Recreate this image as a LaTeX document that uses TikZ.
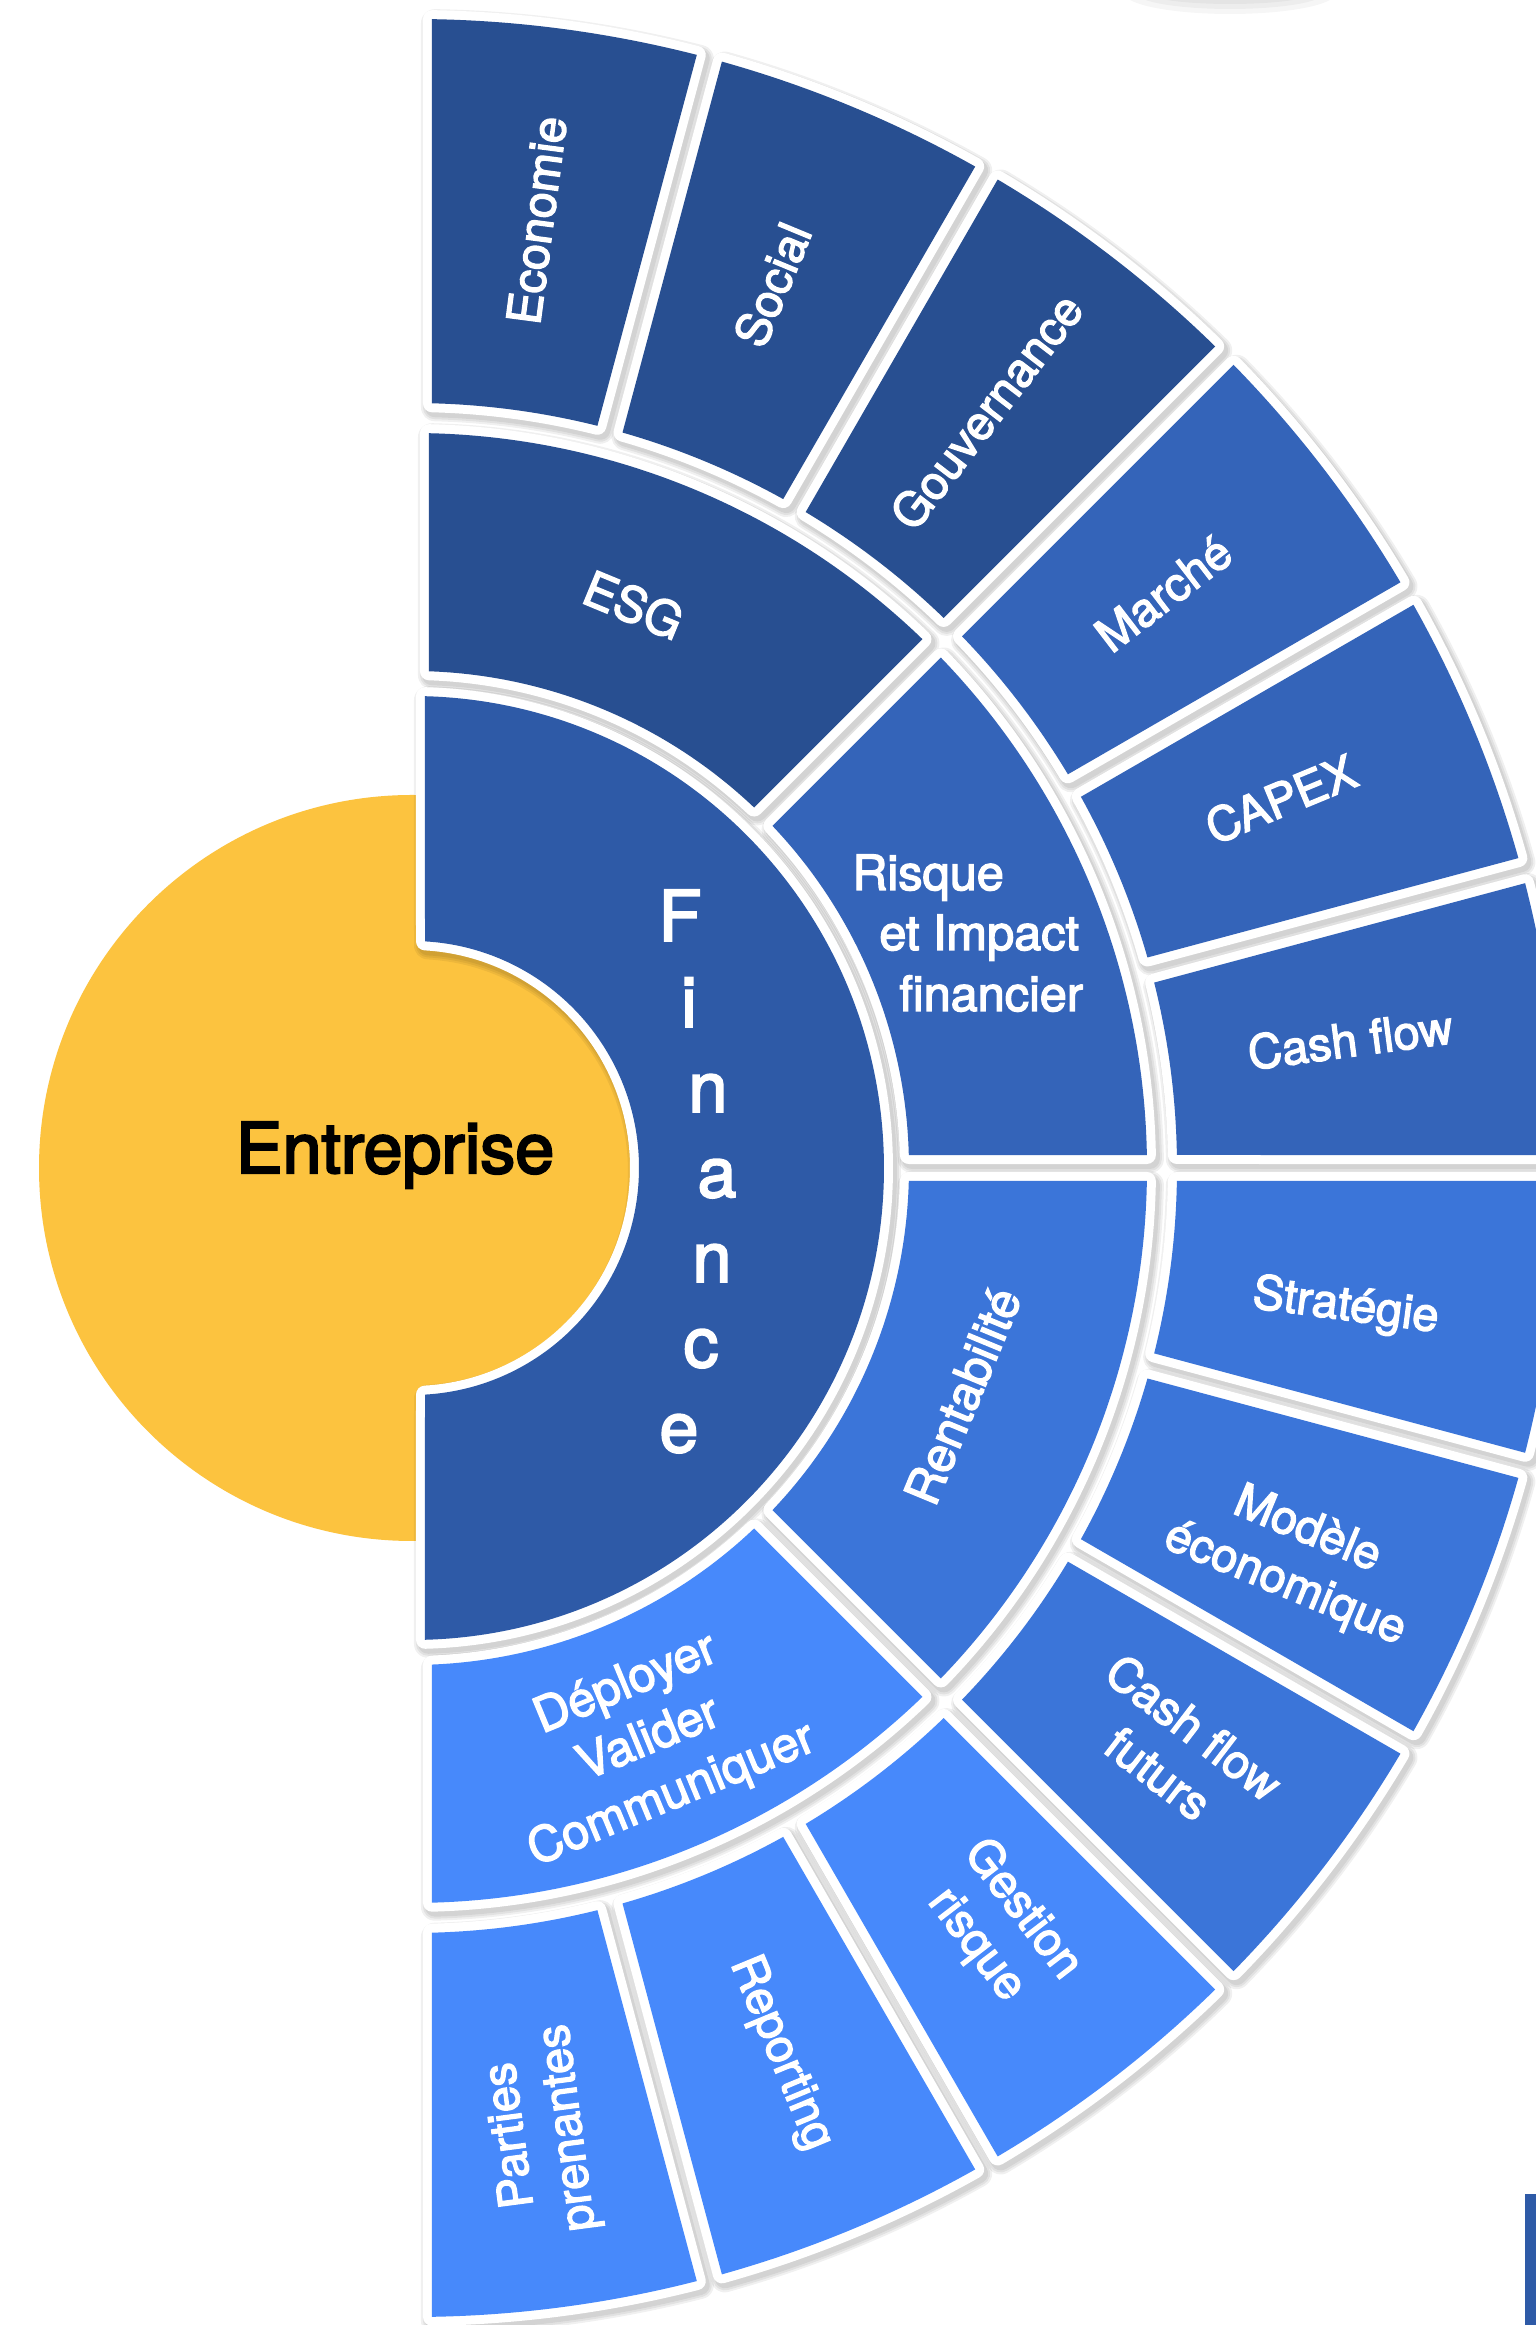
\documentclass[tikz,border=0pt]{standalone}
\usepackage{fontspec}
\setmainfont{TeX Gyre Heros}[FakeBold=2.8]
\newfontfamily\heavyfont{TeX Gyre Heros}[FakeBold=3.2]
\usetikzlibrary{calc}

\definecolor{cYellow}{HTML}{FCC33F}
\definecolor{cFin}{HTML}{2E5AA7}
\definecolor{cEsg}{HTML}{284F91}
\definecolor{cRis}{HTML}{3464B9}
\definecolor{cRen}{HTML}{3B75D9}
\definecolor{cDep}{HTML}{4789FB}

% corner angles of an annular sector whose straight sides are pulled in
% by #5 (first side) and #6 (second side)
\newcommand\segcalc[6]{%
  \pgfmathsetmacro\sgOa{#3+asin(#5/#2)}%
  \pgfmathsetmacro\sgOb{#4-asin(#6/#2)}%
  \pgfmathsetmacro\sgIa{#3+asin(#5/#1)}%
  \pgfmathsetmacro\sgIb{#4-asin(#6/#1)}%
}
% soft drop shadow of a sector
\newcommand\segshadow[6]{%
  \segcalc{#1}{#2}{#3}{#4}{#5}{#6}%
  \begin{scope}[transform canvas={shift={(1.5pt,-2pt)}}]
  \foreach \w in {10,12,14}{%
    \path[fill=black, draw=black, opacity=0.06, line width=\w pt, line join=round]
      ([shift={(\sgOa:#2)}]C) arc[start angle=\sgOa, end angle=\sgOb, radius=#2]
      -- ([shift={(\sgIb:#1)}]C) arc[start angle=\sgIb, end angle=\sgIa, radius=#1]
      -- cycle;}
  \end{scope}%
}
% white rimmed coloured sector
\newcommand\segfill[7]{%
  \segcalc{#1}{#2}{#3}{#4}{#5}{#6}%
  \path[draw=white, line width=9pt, line join=round]
    ([shift={(\sgOa:#2)}]C) arc[start angle=\sgOa, end angle=\sgOb, radius=#2]
    -- ([shift={(\sgIb:#1)}]C) arc[start angle=\sgIb, end angle=\sgIa, radius=#1]
    -- cycle;
  \path[fill=#7]
    ([shift={(\sgOa:#2)}]C) arc[start angle=\sgOa, end angle=\sgOb, radius=#2]
    -- ([shift={(\sgIb:#1)}]C) arc[start angle=\sgIb, end angle=\sgIa, radius=#1]
    -- cycle;
}

\begin{document}
\begin{tikzpicture}[x=0.5pt, y=0.5pt,
  lab/.style={text=white, font=\fontsize{23.5}{29}\selectfont, align=center, inner sep=0pt},
  mid/.style={lab, font=\fontsize{24.3}{30}\selectfont},
  big/.style={font=\fontsize{35}{42}\selectfont, inner sep=0pt},
  letter/.style={big, text=white, anchor=base},
]
\useasboundingbox (0,0) rectangle (1536,2325);
\clip (0,0) rectangle (1536,2325);
\fill[white] (0,0) rectangle (1536,2325);

\coordinate (C) at (412,1157);

% faint shadow of an object above the frame
\foreach \k in {1,2,3}{
  \fill[black, opacity=0.035] (1230,2332) ellipse[x radius={70+12*\k}, y radius={6+5*\k}];}

% core disc
\fill[cYellow] (C) circle[radius=373];

% shadows of all sectors
\segshadow{227}{472}{-90}{90}{13}{13}
\foreach \aa/\ab/\dA/\dB in {45/90/13/17, 0/45/13/13, -45/0/13/13, -90/-45/20/13}{
  \segshadow{497}{735}{\aa}{\ab}{\dA}{\dB}}
\foreach \aa/\ab/\dA/\dB in {75/90/13/20, 60/75/13/13, 45/60/13/13, 30/45/13/13,
    15/30/13/13, 0/15/13/13, -15/0/13/13, -30/-15/13/13, -45/-30/13/13,
    -60/-45/13/13, -75/-60/13/13, -90/-75/20/13}{
  \segshadow{765}{1149}{\aa}{\ab}{\dA}{\dB}}

% inner ring
\segfill{227}{472}{-90}{90}{13}{13}{cFin}
% middle ring
\segfill{497}{735}{45}{90}{13}{17}{cEsg}
\segfill{497}{735}{0}{45}{13}{13}{cRis}
\segfill{497}{735}{-45}{0}{13}{13}{cRen}
\segfill{497}{735}{-90}{-45}{20}{13}{cDep}
% outer ring
\foreach \aa/\ab/\dA/\dB/\col in {75/90/13/20/cEsg, 60/75/13/13/cEsg, 45/60/13/13/cEsg,
    30/45/13/13/cRis, 15/30/13/13/cRis, 0/15/13/13/cRis,
    -15/0/13/13/cRen, -30/-15/13/13/cRen, -45/-30/13/13/cRen,
    -60/-45/13/13/cDep, -75/-60/13/13/cDep, -90/-75/20/13/cDep}{
  \segfill{765}{1149}{\aa}{\ab}{\dA}{\dB}{\col}}

% centre label
\node[big, font=\heavyfont\fontsize{35}{42}\selectfont, anchor=base] (ent) at (395,1152) {Entreprise};

% inner ring, one letter per line
\node[letter] (f1) at (680,1384) {F};
\node[letter] (f2) at (689,1298) {i};
\node[letter] (f3) at (708,1213) {n};
\node[letter] (f4) at (717,1128) {a};
\node[letter] (f5) at (712,1043) {n};
\node[letter] (f6) at (701,958) {c};
\node[letter] (f7) at (679,873) {e};

% middle ring labels
\node[mid, rotate=-22.5] (esg) at ([shift={(68.5:605)}]C) {ESG};
\node[mid, anchor=base west] (ris1) at (852,1435) {Risque};
\node[mid, anchor=base west] (ris2) at (879,1375) {et Impact};
\node[mid, anchor=base west] (ris3) at (899,1314) {financier};
\node[mid, rotate=67.5] (ren) at ([shift={(-22.5:596)}]C) {Rentabilité};
\node[mid, rotate=22.5] (dep) at ([shift={(-67.5:620)}]C) {Déployer\\Valider\\Communiquer};

% outer ring labels
\node[lab, rotate=82.5] (o1) at ([shift={(82.5:956)}]C) {Economie};
\node[lab, rotate=67.5] (o2) at ([shift={(67.8:954)}]C) {Social};
\node[lab, rotate=52.5] (o3) at ([shift={(52.8:950)}]C) {Gouvernance};
\node[lab, rotate=37.5] (o4) at ([shift={(37.4:946)}]C) {Marché};
\node[lab, rotate=22.5] (o5) at ([shift={(23:944)}]C) {CAPEX};
\node[lab, rotate=7.5] (o6) at ([shift={(7.8:947)}]C) {Cash flow};
\node[lab, rotate=-7.5] (o7) at ([shift={(-8.5:944)}]C) {Stratégie};
\node[lab, rotate=-22.5] (o8) at ([shift={(-23.8:966)}]C) {Modèle\\économique};
\node[lab, rotate=-37.5] (o9) at ([shift={(-37.3:961)}]C) {Cash flow\\futurs};
\node[lab, rotate=-52.5] (o10) at ([shift={(-52.3:960)}]C) {Gestion\\risque};
\node[lab, rotate=-67.5] (o11) at ([shift={(-67.4:959)}]C) {Reporting};
\node[lab, rotate=97.5] (o12) at ([shift={(-82.4:972)}]C) {Parties\\prenantes};

% edge of a neighbouring block
\fill[cFin] (1525,0) rectangle (1536,131);
\end{tikzpicture}
\end{document}
